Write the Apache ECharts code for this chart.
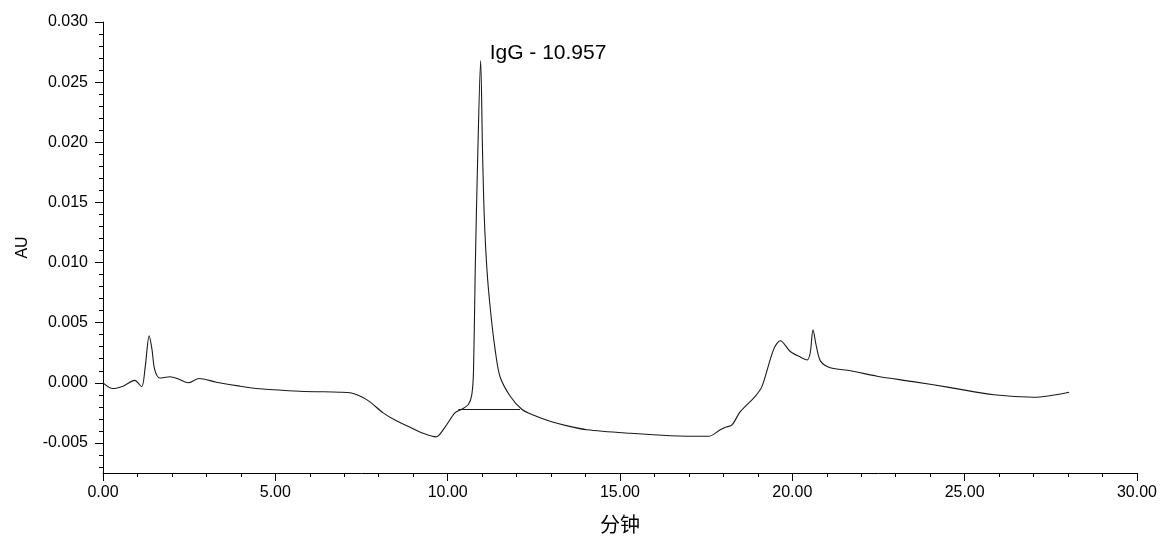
<!DOCTYPE html>
<html>
<head>
<meta charset="utf-8">
<script src="https://cdn.jsdelivr.net/npm/echarts@6/dist/echarts.min.js"></script>
<style>
  html, body { margin: 0; padding: 0; background: #fff; }
  #main { width: 1160px; height: 540px; }
</style>
</head>
<body>
<div id="main"></div>
<script>
// chromatogram trace (minutes, AU)
var times = [0, 0.29, 0.58, 0.92, 1.12, 1.22, 1.34, 1.42, 1.50, 1.65, 1.94, 2.20, 2.47, 2.79, 3.29, 3.97, 4.55, 5.71, 6.87, 7.17,
  7.65, 8.13, 8.47, 8.91, 9.29, 9.66, 9.92, 10.21, 10.41, 10.60, 10.70, 10.75, 10.80, 10.875, 10.957, 11.01, 11.06, 11.14,
  11.25, 11.38, 11.52, 11.81, 12.15, 12.5, 12.97, 13.5, 14.04, 15.3, 16.46, 17.57, 17.91, 18.06, 18.25, 18.49, 18.93, 19.12,
  19.46, 19.65, 19.94, 20.19, 20.43, 20.52, 20.60, 20.70, 20.82, 21.1, 21.69, 22.46, 23.5, 24.59, 25.85, 27.01, 28.03];
var au = [0.0000, -0.00048, -0.00028, 0.0002, -0.00033, 0.0012, 0.0039, 0.0028, 0.0011, 0.0004, 0.0005, 0.0003, 0.0000, 0.00036, 0.00005, -0.00028, -0.0005, -0.0007, -0.00078, -0.00083,
  -0.0014, -0.0025, -0.0031, -0.0037, -0.0042, -0.0045, -0.0037, -0.0025, -0.0022, -0.0018, -0.0010, 0.0010, 0.0094, 0.0192, 0.0268, 0.0195, 0.0140, 0.0094,
  0.0058, 0.0027, 0.0005, -0.0011, -0.0022, -0.0027, -0.0032, -0.0036, -0.0039, -0.0042, -0.0044, -0.00445, -0.0039, -0.0037, -0.0035, -0.0024, -0.0011, -0.0003,
  0.0028, 0.0035, 0.0026, 0.0022, 0.0019, 0.0025, 0.0044, 0.0030, 0.0018, 0.00125, 0.0010, 0.00055, 0.0001, -0.0004, -0.0010, -0.0012, -0.00078];

// integration baseline under the IgG peak
var baseTimes = [10.31, 12.10];
var baseAu = [-0.00222, -0.00222];

var peakName = 'IgG';
var peakTime = 10.957;
var peakAu = 0.0268;

// y axis ticks: labelled every 0.005, small ticks every 0.001
var yMajor = [-0.005, 0, 0.005, 0.010, 0.015, 0.020, 0.025, 0.030];
var yMinor = [-0.007, -0.006, -0.004, -0.003, -0.002, -0.001, 0.001, 0.002, 0.003, 0.004,
  0.006, 0.007, 0.008, 0.009, 0.011, 0.012, 0.013, 0.014, 0.016, 0.017, 0.018, 0.019,
  0.021, 0.022, 0.023, 0.024, 0.026, 0.027, 0.028, 0.029];

function pairs(xs, ys) {
  return xs.map(function (x, i) { return [x, ys[i]]; });
}

var labelFont = 'Liberation Sans, Arial, sans-serif';

var chart = echarts.init(document.getElementById('main'));
chart.setOption({
  backgroundColor: '#fff',
  animation: false,
  grid: { left: 103, right: 23, top: 22, bottom: 67 },
  xAxis: {
    type: 'value',
    min: 0, max: 30, interval: 5,
    name: '分钟',
    nameLocation: 'middle',
    nameGap: 41,
    nameTextStyle: { color: '#000', fontSize: 20, fontFamily: 'Noto Sans CJK SC' },
    axisLine: { show: true, onZero: false, lineStyle: { color: '#000', width: 1 } },
    axisTick: { show: true, length: 8, lineStyle: { color: '#000' } },
    minorTick: { show: true, splitNumber: 5, length: 4, lineStyle: { color: '#000' } },
    splitLine: { show: false },
    axisLabel: {
      color: '#000', fontSize: 16, fontFamily: labelFont, margin: 12,
      formatter: function (v) { return v.toFixed(2); }
    }
  },
  yAxis: [
    {
      type: 'value',
      min: -0.0075, max: 0.030,
      name: 'AU',
      nameLocation: 'middle',
      nameRotate: 90,
      nameGap: 72,
      nameTextStyle: { color: '#000', fontSize: 16, fontFamily: labelFont },
      axisLine: { show: true, onZero: false, lineStyle: { color: '#000', width: 1 } },
      axisTick: { show: true, length: 8, customValues: yMajor, lineStyle: { color: '#000' } },
      splitLine: { show: false },
      axisLabel: {
        color: '#000', fontSize: 16, fontFamily: labelFont, margin: 15,
        customValues: yMajor,
        formatter: function (v) { return (Math.round(v * 1000) / 1000).toFixed(3); }
      }
    },
    {
      type: 'value',
      position: 'left',
      min: -0.0075, max: 0.030,
      axisLine: { show: false },
      axisTick: { show: true, length: 4, customValues: yMinor, lineStyle: { color: '#000' } },
      axisLabel: { show: false },
      splitLine: { show: false }
    }
  ],
  series: [
    {
      type: 'line',
      data: pairs(times, au),
      smooth: 0.3,
      symbol: 'none',
      lineStyle: { color: '#1a1a1a', width: 1.1 },
      markPoint: {
        symbol: 'circle',
        symbolSize: 0,
        data: [{ coord: [peakTime, peakAu], value: peakTime }],
        label: {
          show: true,
          position: 'right',
          distance: 9,
          offset: [0, -7],
          formatter: peakName + ' - ' + peakTime.toFixed(3),
          color: '#000',
          fontSize: 21,
          fontFamily: labelFont
        }
      }
    },
    {
      type: 'line',
      data: pairs(baseTimes, baseAu),
      symbol: 'none',
      lineStyle: { color: '#1a1a1a', width: 1 }
    }
  ]
});
</script>
</body>
</html>
